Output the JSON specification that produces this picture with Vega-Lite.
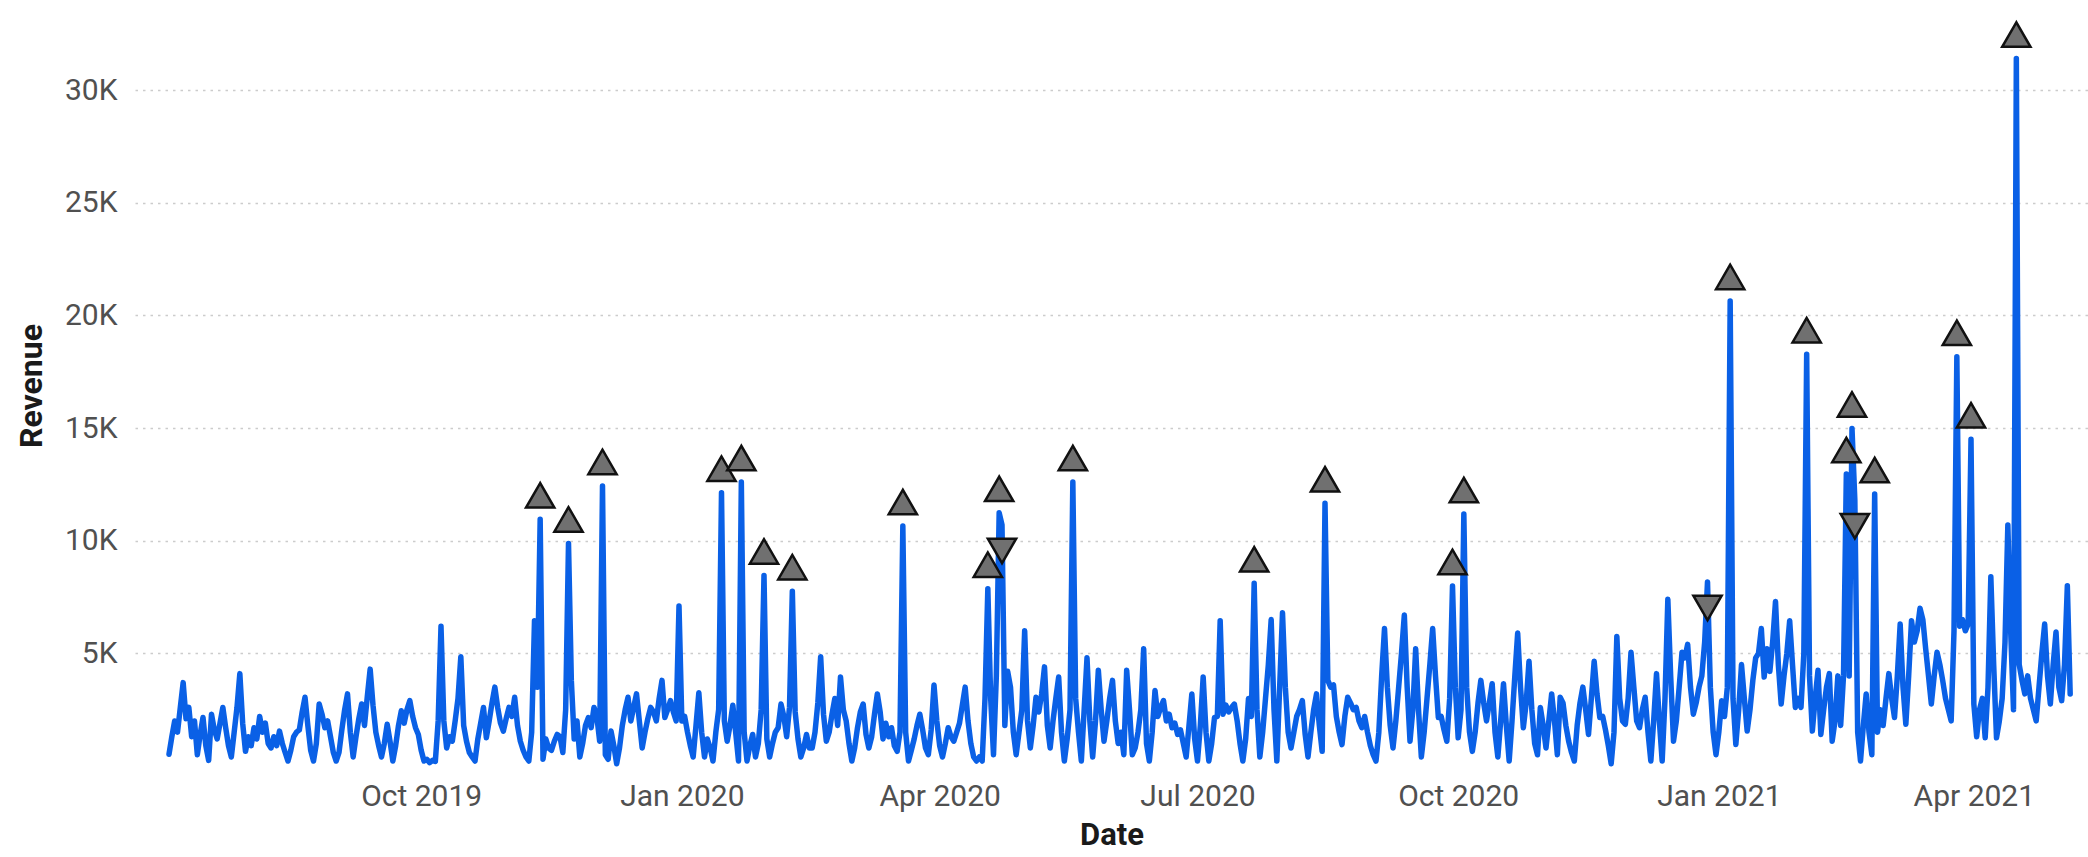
{
"$schema": "https://vega.github.io/schema/vega-lite/v6.json",
"width": 1953, "height": 761,
"autosize": {"type": "none"},
"padding": {"left": 135, "top": 5, "right": 0, "bottom": 91},
"background": "white",
"config": {"view": {"stroke": null}, "font": "Roboto"},
"data": {"values": [
{"Date":"2019-07-04","Revenue":520},{"Date":"2019-07-05","Revenue":1300},{"Date":"2019-07-06","Revenue":2000},{"Date":"2019-07-07","Revenue":1500},{"Date":"2019-07-08","Revenue":2600},{"Date":"2019-07-09","Revenue":3700},{"Date":"2019-07-10","Revenue":2100},{"Date":"2019-07-11","Revenue":2600},{"Date":"2019-07-12","Revenue":1300},{"Date":"2019-07-13","Revenue":2000},{"Date":"2019-07-14","Revenue":500},{"Date":"2019-07-15","Revenue":1400},{"Date":"2019-07-16","Revenue":2150},{"Date":"2019-07-17","Revenue":900},{"Date":"2019-07-18","Revenue":250},{"Date":"2019-07-19","Revenue":2300},{"Date":"2019-07-20","Revenue":1600},{"Date":"2019-07-21","Revenue":1200},{"Date":"2019-07-22","Revenue":1900},{"Date":"2019-07-23","Revenue":2600},{"Date":"2019-07-24","Revenue":1700},{"Date":"2019-07-25","Revenue":900},{"Date":"2019-07-26","Revenue":400},{"Date":"2019-07-27","Revenue":1500},{"Date":"2019-07-28","Revenue":2600},{"Date":"2019-07-29","Revenue":4100},{"Date":"2019-07-30","Revenue":1900},{"Date":"2019-07-31","Revenue":650},
{"Date":"2019-08-01","Revenue":1300},{"Date":"2019-08-02","Revenue":900},{"Date":"2019-08-03","Revenue":1700},{"Date":"2019-08-04","Revenue":1200},{"Date":"2019-08-05","Revenue":2200},{"Date":"2019-08-06","Revenue":1500},{"Date":"2019-08-07","Revenue":1900},{"Date":"2019-08-08","Revenue":1000},{"Date":"2019-08-09","Revenue":800},{"Date":"2019-08-10","Revenue":1300},{"Date":"2019-08-11","Revenue":900},{"Date":"2019-08-12","Revenue":1550},{"Date":"2019-08-13","Revenue":1000},{"Date":"2019-08-14","Revenue":600},{"Date":"2019-08-15","Revenue":220},{"Date":"2019-08-16","Revenue":700},{"Date":"2019-08-17","Revenue":1300},{"Date":"2019-08-18","Revenue":1500},{"Date":"2019-08-19","Revenue":1600},{"Date":"2019-08-20","Revenue":2400},{"Date":"2019-08-21","Revenue":3050},{"Date":"2019-08-22","Revenue":1800},{"Date":"2019-08-23","Revenue":700},{"Date":"2019-08-24","Revenue":220},{"Date":"2019-08-25","Revenue":1000},{"Date":"2019-08-26","Revenue":2750},{"Date":"2019-08-27","Revenue":2300},{"Date":"2019-08-28","Revenue":1700},{"Date":"2019-08-29","Revenue":2000},{"Date":"2019-08-30","Revenue":1300},{"Date":"2019-08-31","Revenue":600},
{"Date":"2019-09-01","Revenue":220},{"Date":"2019-09-02","Revenue":600},{"Date":"2019-09-03","Revenue":1600},{"Date":"2019-09-04","Revenue":2500},{"Date":"2019-09-05","Revenue":3200},{"Date":"2019-09-06","Revenue":1500},{"Date":"2019-09-07","Revenue":400},{"Date":"2019-09-08","Revenue":1300},{"Date":"2019-09-09","Revenue":2100},{"Date":"2019-09-10","Revenue":2750},{"Date":"2019-09-11","Revenue":1800},{"Date":"2019-09-12","Revenue":3100},{"Date":"2019-09-13","Revenue":4300},{"Date":"2019-09-14","Revenue":2700},{"Date":"2019-09-15","Revenue":1500},{"Date":"2019-09-16","Revenue":900},{"Date":"2019-09-17","Revenue":400},{"Date":"2019-09-18","Revenue":1000},{"Date":"2019-09-19","Revenue":1850},{"Date":"2019-09-20","Revenue":1100},{"Date":"2019-09-21","Revenue":220},{"Date":"2019-09-22","Revenue":900},{"Date":"2019-09-23","Revenue":1800},{"Date":"2019-09-24","Revenue":2450},{"Date":"2019-09-25","Revenue":1900},{"Date":"2019-09-26","Revenue":2500},{"Date":"2019-09-27","Revenue":2900},{"Date":"2019-09-28","Revenue":2200},{"Date":"2019-09-29","Revenue":1700},{"Date":"2019-09-30","Revenue":1400},
{"Date":"2019-10-01","Revenue":700},{"Date":"2019-10-02","Revenue":220},{"Date":"2019-10-03","Revenue":300},{"Date":"2019-10-04","Revenue":150},{"Date":"2019-10-05","Revenue":250},{"Date":"2019-10-06","Revenue":200},{"Date":"2019-10-07","Revenue":2000},{"Date":"2019-10-08","Revenue":6200},{"Date":"2019-10-09","Revenue":2000},{"Date":"2019-10-10","Revenue":800},{"Date":"2019-10-11","Revenue":1300},{"Date":"2019-10-12","Revenue":1100},{"Date":"2019-10-13","Revenue":2000},{"Date":"2019-10-14","Revenue":3000},{"Date":"2019-10-15","Revenue":4850},{"Date":"2019-10-16","Revenue":1800},{"Date":"2019-10-17","Revenue":1100},{"Date":"2019-10-18","Revenue":600},{"Date":"2019-10-19","Revenue":400},{"Date":"2019-10-20","Revenue":220},{"Date":"2019-10-21","Revenue":1200},{"Date":"2019-10-22","Revenue":1900},{"Date":"2019-10-23","Revenue":2600},{"Date":"2019-10-24","Revenue":1250},{"Date":"2019-10-25","Revenue":2000},{"Date":"2019-10-26","Revenue":2800},{"Date":"2019-10-27","Revenue":3500},{"Date":"2019-10-28","Revenue":2600},{"Date":"2019-10-29","Revenue":1900},{"Date":"2019-10-30","Revenue":1550},{"Date":"2019-10-31","Revenue":2100},
{"Date":"2019-11-01","Revenue":2600},{"Date":"2019-11-02","Revenue":2200},{"Date":"2019-11-03","Revenue":3050},{"Date":"2019-11-04","Revenue":1800},{"Date":"2019-11-05","Revenue":1100},{"Date":"2019-11-06","Revenue":700},{"Date":"2019-11-07","Revenue":400},{"Date":"2019-11-08","Revenue":220},{"Date":"2019-11-09","Revenue":1500},{"Date":"2019-11-10","Revenue":6450},{"Date":"2019-11-11","Revenue":3500},{"Date":"2019-11-12","Revenue":10950,"Anomaly":"up"},{"Date":"2019-11-13","Revenue":300},{"Date":"2019-11-14","Revenue":1200},{"Date":"2019-11-15","Revenue":800},{"Date":"2019-11-16","Revenue":700},{"Date":"2019-11-17","Revenue":1100},{"Date":"2019-11-18","Revenue":1400},{"Date":"2019-11-19","Revenue":1300},{"Date":"2019-11-20","Revenue":600},{"Date":"2019-11-21","Revenue":2500},{"Date":"2019-11-22","Revenue":9880,"Anomaly":"up"},{"Date":"2019-11-23","Revenue":3800},{"Date":"2019-11-24","Revenue":1200},{"Date":"2019-11-25","Revenue":2000},{"Date":"2019-11-26","Revenue":400},{"Date":"2019-11-27","Revenue":1000},{"Date":"2019-11-28","Revenue":1800},{"Date":"2019-11-29","Revenue":2150},{"Date":"2019-11-30","Revenue":1700},
{"Date":"2019-12-01","Revenue":2600},{"Date":"2019-12-02","Revenue":2200},{"Date":"2019-12-03","Revenue":1100},{"Date":"2019-12-04","Revenue":12430,"Anomaly":"up"},{"Date":"2019-12-05","Revenue":500},{"Date":"2019-12-06","Revenue":300},{"Date":"2019-12-07","Revenue":1550},{"Date":"2019-12-08","Revenue":900},{"Date":"2019-12-09","Revenue":100},{"Date":"2019-12-10","Revenue":800},{"Date":"2019-12-11","Revenue":1800},{"Date":"2019-12-12","Revenue":2500},{"Date":"2019-12-13","Revenue":3050},{"Date":"2019-12-14","Revenue":2000},{"Date":"2019-12-15","Revenue":2600},{"Date":"2019-12-16","Revenue":3200},{"Date":"2019-12-17","Revenue":2000},{"Date":"2019-12-18","Revenue":800},{"Date":"2019-12-19","Revenue":1500},{"Date":"2019-12-20","Revenue":2100},{"Date":"2019-12-21","Revenue":2600},{"Date":"2019-12-22","Revenue":2400},{"Date":"2019-12-23","Revenue":2000},{"Date":"2019-12-24","Revenue":3000},{"Date":"2019-12-25","Revenue":3800},{"Date":"2019-12-26","Revenue":2150},{"Date":"2019-12-27","Revenue":2500},{"Date":"2019-12-28","Revenue":2900},{"Date":"2019-12-29","Revenue":2400},{"Date":"2019-12-30","Revenue":2000},{"Date":"2019-12-31","Revenue":7100},
{"Date":"2020-01-01","Revenue":2000},{"Date":"2020-01-02","Revenue":2200},{"Date":"2020-01-03","Revenue":1500},{"Date":"2020-01-04","Revenue":900},{"Date":"2020-01-05","Revenue":400},{"Date":"2020-01-06","Revenue":1800},{"Date":"2020-01-07","Revenue":3250},{"Date":"2020-01-08","Revenue":1500},{"Date":"2020-01-09","Revenue":400},{"Date":"2020-01-10","Revenue":1200},{"Date":"2020-01-11","Revenue":800},{"Date":"2020-01-12","Revenue":220},{"Date":"2020-01-13","Revenue":1500},{"Date":"2020-01-14","Revenue":2500},{"Date":"2020-01-15","Revenue":12130,"Anomaly":"up"},{"Date":"2020-01-16","Revenue":2000},{"Date":"2020-01-17","Revenue":1100},{"Date":"2020-01-18","Revenue":1800},{"Date":"2020-01-19","Revenue":2700},{"Date":"2020-01-20","Revenue":1500},{"Date":"2020-01-21","Revenue":220},{"Date":"2020-01-22","Revenue":12600,"Anomaly":"up"},{"Date":"2020-01-23","Revenue":1500},{"Date":"2020-01-24","Revenue":220},{"Date":"2020-01-25","Revenue":900},{"Date":"2020-01-26","Revenue":1400},{"Date":"2020-01-27","Revenue":400},{"Date":"2020-01-28","Revenue":1000},{"Date":"2020-01-29","Revenue":2500},{"Date":"2020-01-30","Revenue":8460,"Anomaly":"up"},{"Date":"2020-01-31","Revenue":1200},
{"Date":"2020-02-01","Revenue":400},{"Date":"2020-02-02","Revenue":1000},{"Date":"2020-02-03","Revenue":1500},{"Date":"2020-02-04","Revenue":1700},{"Date":"2020-02-05","Revenue":2750},{"Date":"2020-02-06","Revenue":2200},{"Date":"2020-02-07","Revenue":1300},{"Date":"2020-02-08","Revenue":2600},{"Date":"2020-02-09","Revenue":7760,"Anomaly":"up"},{"Date":"2020-02-10","Revenue":2400},{"Date":"2020-02-11","Revenue":1200},{"Date":"2020-02-12","Revenue":400},{"Date":"2020-02-13","Revenue":800},{"Date":"2020-02-14","Revenue":1400},{"Date":"2020-02-15","Revenue":800},{"Date":"2020-02-16","Revenue":800},{"Date":"2020-02-17","Revenue":1500},{"Date":"2020-02-18","Revenue":2800},{"Date":"2020-02-19","Revenue":4850},{"Date":"2020-02-20","Revenue":2300},{"Date":"2020-02-21","Revenue":1100},{"Date":"2020-02-22","Revenue":1500},{"Date":"2020-02-23","Revenue":2300},{"Date":"2020-02-24","Revenue":3000},{"Date":"2020-02-25","Revenue":1800},{"Date":"2020-02-26","Revenue":3950},{"Date":"2020-02-27","Revenue":2500},{"Date":"2020-02-28","Revenue":2000},{"Date":"2020-02-29","Revenue":1000},
{"Date":"2020-03-01","Revenue":220},{"Date":"2020-03-02","Revenue":800},{"Date":"2020-03-03","Revenue":1700},{"Date":"2020-03-04","Revenue":2400},{"Date":"2020-03-05","Revenue":2750},{"Date":"2020-03-06","Revenue":1400},{"Date":"2020-03-07","Revenue":800},{"Date":"2020-03-08","Revenue":1300},{"Date":"2020-03-09","Revenue":2300},{"Date":"2020-03-10","Revenue":3200},{"Date":"2020-03-11","Revenue":2400},{"Date":"2020-03-12","Revenue":1200},{"Date":"2020-03-13","Revenue":1900},{"Date":"2020-03-14","Revenue":1300},{"Date":"2020-03-15","Revenue":1700},{"Date":"2020-03-16","Revenue":900},{"Date":"2020-03-17","Revenue":650},{"Date":"2020-03-18","Revenue":1500},{"Date":"2020-03-19","Revenue":10650,"Anomaly":"up"},{"Date":"2020-03-20","Revenue":1500},{"Date":"2020-03-21","Revenue":220},{"Date":"2020-03-22","Revenue":700},{"Date":"2020-03-23","Revenue":1200},{"Date":"2020-03-24","Revenue":1800},{"Date":"2020-03-25","Revenue":2300},{"Date":"2020-03-26","Revenue":1600},{"Date":"2020-03-27","Revenue":800},{"Date":"2020-03-28","Revenue":500},{"Date":"2020-03-29","Revenue":1600},{"Date":"2020-03-30","Revenue":3600},{"Date":"2020-03-31","Revenue":2000},
{"Date":"2020-04-01","Revenue":900},{"Date":"2020-04-02","Revenue":400},{"Date":"2020-04-03","Revenue":1000},{"Date":"2020-04-04","Revenue":1700},{"Date":"2020-04-05","Revenue":1300},{"Date":"2020-04-06","Revenue":1100},{"Date":"2020-04-07","Revenue":1500},{"Date":"2020-04-08","Revenue":1900},{"Date":"2020-04-09","Revenue":2700},{"Date":"2020-04-10","Revenue":3500},{"Date":"2020-04-11","Revenue":2000},{"Date":"2020-04-12","Revenue":1000},{"Date":"2020-04-13","Revenue":400},{"Date":"2020-04-14","Revenue":220},{"Date":"2020-04-15","Revenue":400},{"Date":"2020-04-16","Revenue":220},{"Date":"2020-04-17","Revenue":3000},{"Date":"2020-04-18","Revenue":7870,"Anomaly":"up"},{"Date":"2020-04-19","Revenue":3000},{"Date":"2020-04-20","Revenue":500},{"Date":"2020-04-21","Revenue":4000},{"Date":"2020-04-22","Revenue":11240,"Anomaly":"up"},{"Date":"2020-04-23","Revenue":10700,"Anomaly":"down"},{"Date":"2020-04-24","Revenue":1800},{"Date":"2020-04-25","Revenue":4200},{"Date":"2020-04-26","Revenue":3500},{"Date":"2020-04-27","Revenue":1500},{"Date":"2020-04-28","Revenue":500},{"Date":"2020-04-29","Revenue":1500},{"Date":"2020-04-30","Revenue":2500},
{"Date":"2020-05-01","Revenue":6000},{"Date":"2020-05-02","Revenue":2000},{"Date":"2020-05-03","Revenue":800},{"Date":"2020-05-04","Revenue":1800},{"Date":"2020-05-05","Revenue":3050},{"Date":"2020-05-06","Revenue":2400},{"Date":"2020-05-07","Revenue":3200},{"Date":"2020-05-08","Revenue":4400},{"Date":"2020-05-09","Revenue":1800},{"Date":"2020-05-10","Revenue":800},{"Date":"2020-05-11","Revenue":2000},{"Date":"2020-05-12","Revenue":3000},{"Date":"2020-05-13","Revenue":3950},{"Date":"2020-05-14","Revenue":1500},{"Date":"2020-05-15","Revenue":220},{"Date":"2020-05-16","Revenue":1200},{"Date":"2020-05-17","Revenue":2500},{"Date":"2020-05-18","Revenue":12600,"Anomaly":"up"},{"Date":"2020-05-19","Revenue":3000},{"Date":"2020-05-20","Revenue":1500},{"Date":"2020-05-21","Revenue":220},{"Date":"2020-05-22","Revenue":2500},{"Date":"2020-05-23","Revenue":4800},{"Date":"2020-05-24","Revenue":2000},{"Date":"2020-05-25","Revenue":400},{"Date":"2020-05-26","Revenue":2000},{"Date":"2020-05-27","Revenue":4250},{"Date":"2020-05-28","Revenue":2500},{"Date":"2020-05-29","Revenue":1100},{"Date":"2020-05-30","Revenue":2000},{"Date":"2020-05-31","Revenue":3000},
{"Date":"2020-06-01","Revenue":3800},{"Date":"2020-06-02","Revenue":2000},{"Date":"2020-06-03","Revenue":1000},{"Date":"2020-06-04","Revenue":1500},{"Date":"2020-06-05","Revenue":500},{"Date":"2020-06-06","Revenue":4250},{"Date":"2020-06-07","Revenue":2500},{"Date":"2020-06-08","Revenue":500},{"Date":"2020-06-09","Revenue":800},{"Date":"2020-06-10","Revenue":1500},{"Date":"2020-06-11","Revenue":2500},{"Date":"2020-06-12","Revenue":5200},{"Date":"2020-06-13","Revenue":1000},{"Date":"2020-06-14","Revenue":220},{"Date":"2020-06-15","Revenue":1500},{"Date":"2020-06-16","Revenue":3350},{"Date":"2020-06-17","Revenue":2200},{"Date":"2020-06-18","Revenue":2600},{"Date":"2020-06-19","Revenue":2900},{"Date":"2020-06-20","Revenue":2000},{"Date":"2020-06-21","Revenue":2300},{"Date":"2020-06-22","Revenue":1700},{"Date":"2020-06-23","Revenue":1900},{"Date":"2020-06-24","Revenue":1400},{"Date":"2020-06-25","Revenue":1600},{"Date":"2020-06-26","Revenue":1000},{"Date":"2020-06-27","Revenue":400},{"Date":"2020-06-28","Revenue":1800},{"Date":"2020-06-29","Revenue":3200},{"Date":"2020-06-30","Revenue":1200},
{"Date":"2020-07-01","Revenue":220},{"Date":"2020-07-02","Revenue":1800},{"Date":"2020-07-03","Revenue":3950},{"Date":"2020-07-04","Revenue":1500},{"Date":"2020-07-05","Revenue":220},{"Date":"2020-07-06","Revenue":1000},{"Date":"2020-07-07","Revenue":2150},{"Date":"2020-07-08","Revenue":2200},{"Date":"2020-07-09","Revenue":6450},{"Date":"2020-07-10","Revenue":2300},{"Date":"2020-07-11","Revenue":2700},{"Date":"2020-07-12","Revenue":2400},{"Date":"2020-07-13","Revenue":2600},{"Date":"2020-07-14","Revenue":2750},{"Date":"2020-07-15","Revenue":2000},{"Date":"2020-07-16","Revenue":1000},{"Date":"2020-07-17","Revenue":220},{"Date":"2020-07-18","Revenue":1200},{"Date":"2020-07-19","Revenue":3000},{"Date":"2020-07-20","Revenue":2200},{"Date":"2020-07-21","Revenue":8110,"Anomaly":"up"},{"Date":"2020-07-22","Revenue":2500},{"Date":"2020-07-23","Revenue":400},{"Date":"2020-07-24","Revenue":1500},{"Date":"2020-07-25","Revenue":3000},{"Date":"2020-07-26","Revenue":4500},{"Date":"2020-07-27","Revenue":6500},{"Date":"2020-07-28","Revenue":2500},{"Date":"2020-07-29","Revenue":220},{"Date":"2020-07-30","Revenue":3500},{"Date":"2020-07-31","Revenue":6800},
{"Date":"2020-08-01","Revenue":3500},{"Date":"2020-08-02","Revenue":1500},{"Date":"2020-08-03","Revenue":800},{"Date":"2020-08-04","Revenue":1500},{"Date":"2020-08-05","Revenue":2200},{"Date":"2020-08-06","Revenue":2500},{"Date":"2020-08-07","Revenue":2900},{"Date":"2020-08-08","Revenue":1400},{"Date":"2020-08-09","Revenue":400},{"Date":"2020-08-10","Revenue":1500},{"Date":"2020-08-11","Revenue":2500},{"Date":"2020-08-12","Revenue":3200},{"Date":"2020-08-13","Revenue":1800},{"Date":"2020-08-14","Revenue":650},{"Date":"2020-08-15","Revenue":11660,"Anomaly":"up"},{"Date":"2020-08-16","Revenue":3800},{"Date":"2020-08-17","Revenue":3500},{"Date":"2020-08-18","Revenue":3600},{"Date":"2020-08-19","Revenue":2200},{"Date":"2020-08-20","Revenue":1500},{"Date":"2020-08-21","Revenue":950},{"Date":"2020-08-22","Revenue":2200},{"Date":"2020-08-23","Revenue":3050},{"Date":"2020-08-24","Revenue":2800},{"Date":"2020-08-25","Revenue":2500},{"Date":"2020-08-26","Revenue":2600},{"Date":"2020-08-27","Revenue":2000},{"Date":"2020-08-28","Revenue":1700},{"Date":"2020-08-29","Revenue":2200},{"Date":"2020-08-30","Revenue":1500},{"Date":"2020-08-31","Revenue":900},
{"Date":"2020-09-01","Revenue":500},{"Date":"2020-09-02","Revenue":220},{"Date":"2020-09-03","Revenue":1500},{"Date":"2020-09-04","Revenue":4000},{"Date":"2020-09-05","Revenue":6100},{"Date":"2020-09-06","Revenue":3500},{"Date":"2020-09-07","Revenue":1800},{"Date":"2020-09-08","Revenue":800},{"Date":"2020-09-09","Revenue":2000},{"Date":"2020-09-10","Revenue":3500},{"Date":"2020-09-11","Revenue":5000},{"Date":"2020-09-12","Revenue":6700},{"Date":"2020-09-13","Revenue":3500},{"Date":"2020-09-14","Revenue":1100},{"Date":"2020-09-15","Revenue":2500},{"Date":"2020-09-16","Revenue":5200},{"Date":"2020-09-17","Revenue":2500},{"Date":"2020-09-18","Revenue":400},{"Date":"2020-09-19","Revenue":1500},{"Date":"2020-09-20","Revenue":3000},{"Date":"2020-09-21","Revenue":4500},{"Date":"2020-09-22","Revenue":6100},{"Date":"2020-09-23","Revenue":4000},{"Date":"2020-09-24","Revenue":2150},{"Date":"2020-09-25","Revenue":2200},{"Date":"2020-09-26","Revenue":1600},{"Date":"2020-09-27","Revenue":1100},{"Date":"2020-09-28","Revenue":3000},{"Date":"2020-09-29","Revenue":7990,"Anomaly":"up"},{"Date":"2020-09-30","Revenue":3500},
{"Date":"2020-10-01","Revenue":1250},{"Date":"2020-10-02","Revenue":2500},{"Date":"2020-10-03","Revenue":11180,"Anomaly":"up"},{"Date":"2020-10-04","Revenue":3500},{"Date":"2020-10-05","Revenue":1500},{"Date":"2020-10-06","Revenue":650},{"Date":"2020-10-07","Revenue":1500},{"Date":"2020-10-08","Revenue":2800},{"Date":"2020-10-09","Revenue":3800},{"Date":"2020-10-10","Revenue":2800},{"Date":"2020-10-11","Revenue":2000},{"Date":"2020-10-12","Revenue":2800},{"Date":"2020-10-13","Revenue":3650},{"Date":"2020-10-14","Revenue":1500},{"Date":"2020-10-15","Revenue":400},{"Date":"2020-10-16","Revenue":2000},{"Date":"2020-10-17","Revenue":3650},{"Date":"2020-10-18","Revenue":1800},{"Date":"2020-10-19","Revenue":220},{"Date":"2020-10-20","Revenue":2000},{"Date":"2020-10-21","Revenue":4000},{"Date":"2020-10-22","Revenue":5900},{"Date":"2020-10-23","Revenue":3500},{"Date":"2020-10-24","Revenue":1700},{"Date":"2020-10-25","Revenue":2800},{"Date":"2020-10-26","Revenue":4650},{"Date":"2020-10-27","Revenue":2500},{"Date":"2020-10-28","Revenue":1000},{"Date":"2020-10-29","Revenue":500},{"Date":"2020-10-30","Revenue":2600},{"Date":"2020-10-31","Revenue":1800},
{"Date":"2020-11-01","Revenue":800},{"Date":"2020-11-02","Revenue":2000},{"Date":"2020-11-03","Revenue":3200},{"Date":"2020-11-04","Revenue":2000},{"Date":"2020-11-05","Revenue":500},{"Date":"2020-11-06","Revenue":3050},{"Date":"2020-11-07","Revenue":2800},{"Date":"2020-11-08","Revenue":1800},{"Date":"2020-11-09","Revenue":1100},{"Date":"2020-11-10","Revenue":600},{"Date":"2020-11-11","Revenue":220},{"Date":"2020-11-12","Revenue":1800},{"Date":"2020-11-13","Revenue":2800},{"Date":"2020-11-14","Revenue":3500},{"Date":"2020-11-15","Revenue":2500},{"Date":"2020-11-16","Revenue":1400},{"Date":"2020-11-17","Revenue":3000},{"Date":"2020-11-18","Revenue":4650},{"Date":"2020-11-19","Revenue":3200},{"Date":"2020-11-20","Revenue":2150},{"Date":"2020-11-21","Revenue":2200},{"Date":"2020-11-22","Revenue":1600},{"Date":"2020-11-23","Revenue":900},{"Date":"2020-11-24","Revenue":100},{"Date":"2020-11-25","Revenue":1500},{"Date":"2020-11-26","Revenue":5750},{"Date":"2020-11-27","Revenue":3000},{"Date":"2020-11-28","Revenue":2000},{"Date":"2020-11-29","Revenue":1850},{"Date":"2020-11-30","Revenue":3000},
{"Date":"2020-12-01","Revenue":5050},{"Date":"2020-12-02","Revenue":3500},{"Date":"2020-12-03","Revenue":2000},{"Date":"2020-12-04","Revenue":1700},{"Date":"2020-12-05","Revenue":2500},{"Date":"2020-12-06","Revenue":3050},{"Date":"2020-12-07","Revenue":1500},{"Date":"2020-12-08","Revenue":220},{"Date":"2020-12-09","Revenue":2000},{"Date":"2020-12-10","Revenue":4100},{"Date":"2020-12-11","Revenue":2000},{"Date":"2020-12-12","Revenue":220},{"Date":"2020-12-13","Revenue":3000},{"Date":"2020-12-14","Revenue":7400},{"Date":"2020-12-15","Revenue":4000},{"Date":"2020-12-16","Revenue":1100},{"Date":"2020-12-17","Revenue":2000},{"Date":"2020-12-18","Revenue":3500},{"Date":"2020-12-19","Revenue":5050},{"Date":"2020-12-20","Revenue":4800},{"Date":"2020-12-21","Revenue":5400},{"Date":"2020-12-22","Revenue":3500},{"Date":"2020-12-23","Revenue":2300},{"Date":"2020-12-24","Revenue":2800},{"Date":"2020-12-25","Revenue":3500},{"Date":"2020-12-26","Revenue":4000},{"Date":"2020-12-27","Revenue":5500},{"Date":"2020-12-28","Revenue":8170,"Anomaly":"down"},{"Date":"2020-12-29","Revenue":3500},{"Date":"2020-12-30","Revenue":1500},{"Date":"2020-12-31","Revenue":500},
{"Date":"2021-01-01","Revenue":1500},{"Date":"2021-01-02","Revenue":2900},{"Date":"2021-01-03","Revenue":2200},{"Date":"2021-01-04","Revenue":3500},{"Date":"2021-01-05","Revenue":20640,"Anomaly":"up"},{"Date":"2021-01-06","Revenue":3000},{"Date":"2021-01-07","Revenue":950},{"Date":"2021-01-08","Revenue":2500},{"Date":"2021-01-09","Revenue":4500},{"Date":"2021-01-10","Revenue":3000},{"Date":"2021-01-11","Revenue":1550},{"Date":"2021-01-12","Revenue":2500},{"Date":"2021-01-13","Revenue":3800},{"Date":"2021-01-14","Revenue":4800},{"Date":"2021-01-15","Revenue":5000},{"Date":"2021-01-16","Revenue":6100},{"Date":"2021-01-17","Revenue":3950},{"Date":"2021-01-18","Revenue":5200},{"Date":"2021-01-19","Revenue":4200},{"Date":"2021-01-20","Revenue":5500},{"Date":"2021-01-21","Revenue":7300},{"Date":"2021-01-22","Revenue":4500},{"Date":"2021-01-23","Revenue":2750},{"Date":"2021-01-24","Revenue":4000},{"Date":"2021-01-25","Revenue":5000},{"Date":"2021-01-26","Revenue":6450},{"Date":"2021-01-27","Revenue":4500},{"Date":"2021-01-28","Revenue":2600},{"Date":"2021-01-29","Revenue":3000},{"Date":"2021-01-30","Revenue":2600},{"Date":"2021-01-31","Revenue":5000},
{"Date":"2021-02-01","Revenue":18280,"Anomaly":"up"},{"Date":"2021-02-02","Revenue":4000},{"Date":"2021-02-03","Revenue":1550},{"Date":"2021-02-04","Revenue":3000},{"Date":"2021-02-05","Revenue":4250},{"Date":"2021-02-06","Revenue":1400},{"Date":"2021-02-07","Revenue":2500},{"Date":"2021-02-08","Revenue":3500},{"Date":"2021-02-09","Revenue":4100},{"Date":"2021-02-10","Revenue":1100},{"Date":"2021-02-11","Revenue":2000},{"Date":"2021-02-12","Revenue":4000},{"Date":"2021-02-13","Revenue":1800},{"Date":"2021-02-14","Revenue":4000},{"Date":"2021-02-15","Revenue":12960,"Anomaly":"up"},{"Date":"2021-02-16","Revenue":4000},{"Date":"2021-02-17","Revenue":14980,"Anomaly":"up"},{"Date":"2021-02-18","Revenue":11800,"Anomaly":"down"},{"Date":"2021-02-19","Revenue":1500},{"Date":"2021-02-20","Revenue":220},{"Date":"2021-02-21","Revenue":1800},{"Date":"2021-02-22","Revenue":3200},{"Date":"2021-02-23","Revenue":1500},{"Date":"2021-02-24","Revenue":500},{"Date":"2021-02-25","Revenue":12070,"Anomaly":"up"},{"Date":"2021-02-26","Revenue":1500},{"Date":"2021-02-27","Revenue":2500},{"Date":"2021-02-28","Revenue":1800},
{"Date":"2021-03-01","Revenue":3000},{"Date":"2021-03-02","Revenue":4100},{"Date":"2021-03-03","Revenue":3000},{"Date":"2021-03-04","Revenue":2150},{"Date":"2021-03-05","Revenue":4000},{"Date":"2021-03-06","Revenue":6300},{"Date":"2021-03-07","Revenue":3500},{"Date":"2021-03-08","Revenue":1850},{"Date":"2021-03-09","Revenue":4000},{"Date":"2021-03-10","Revenue":6450},{"Date":"2021-03-11","Revenue":5500},{"Date":"2021-03-12","Revenue":6000},{"Date":"2021-03-13","Revenue":7000},{"Date":"2021-03-14","Revenue":6500},{"Date":"2021-03-15","Revenue":5200},{"Date":"2021-03-16","Revenue":4000},{"Date":"2021-03-17","Revenue":2750},{"Date":"2021-03-18","Revenue":4000},{"Date":"2021-03-19","Revenue":5050},{"Date":"2021-03-20","Revenue":4500},{"Date":"2021-03-21","Revenue":3800},{"Date":"2021-03-22","Revenue":3000},{"Date":"2021-03-23","Revenue":2500},{"Date":"2021-03-24","Revenue":2000},{"Date":"2021-03-25","Revenue":6000},{"Date":"2021-03-26","Revenue":18160,"Anomaly":"up"},{"Date":"2021-03-27","Revenue":6200},{"Date":"2021-03-28","Revenue":6500},{"Date":"2021-03-29","Revenue":6000},{"Date":"2021-03-30","Revenue":6300},{"Date":"2021-03-31","Revenue":14500,"Anomaly":"up"},
{"Date":"2021-04-01","Revenue":2750},{"Date":"2021-04-02","Revenue":1300},{"Date":"2021-04-03","Revenue":2500},{"Date":"2021-04-04","Revenue":3000},{"Date":"2021-04-05","Revenue":1250},{"Date":"2021-04-06","Revenue":3500},{"Date":"2021-04-07","Revenue":8400},{"Date":"2021-04-08","Revenue":4500},{"Date":"2021-04-09","Revenue":1250},{"Date":"2021-04-10","Revenue":2000},{"Date":"2021-04-11","Revenue":3000},{"Date":"2021-04-12","Revenue":5500},{"Date":"2021-04-13","Revenue":10700},{"Date":"2021-04-14","Revenue":6000},{"Date":"2021-04-15","Revenue":2500},{"Date":"2021-04-16","Revenue":31400,"Anomaly":"up"},{"Date":"2021-04-17","Revenue":4500},{"Date":"2021-04-18","Revenue":3800},{"Date":"2021-04-19","Revenue":3200},{"Date":"2021-04-20","Revenue":4000},{"Date":"2021-04-21","Revenue":3000},{"Date":"2021-04-22","Revenue":2500},{"Date":"2021-04-23","Revenue":2000},{"Date":"2021-04-24","Revenue":3500},{"Date":"2021-04-25","Revenue":5000},{"Date":"2021-04-26","Revenue":6300},{"Date":"2021-04-27","Revenue":4000},{"Date":"2021-04-28","Revenue":2750},{"Date":"2021-04-29","Revenue":4500},{"Date":"2021-04-30","Revenue":5950},
{"Date":"2021-05-01","Revenue":3500},{"Date":"2021-05-02","Revenue":2900},{"Date":"2021-05-03","Revenue":4500},{"Date":"2021-05-04","Revenue":8000},{"Date":"2021-05-05","Revenue":3200}
]},
"encoding": {
  "x": {"field": "Date", "type": "temporal",
    "scale": {"type": "utc", "domain": [{"year": 2019, "month": 6, "date": 22, "utc": true}, {"year": 2021, "month": 5, "date": 11, "hours": 7, "utc": true}]},
    "axis": {"title": "Date", "format": "%b %Y", "grid": false, "domain": false, "ticks": false, "tickSize": 0,
      "values": [{"year": 2019, "month": 10, "date": 1, "utc": true}, {"year": 2020, "month": 1, "date": 1, "utc": true}, {"year": 2020, "month": 4, "date": 1, "utc": true}, {"year": 2020, "month": 7, "date": 1, "utc": true}, {"year": 2020, "month": 10, "date": 1, "utc": true}, {"year": 2021, "month": 1, "date": 1, "utc": true}, {"year": 2021, "month": 4, "date": 1, "utc": true}],
      "labelFont": "Roboto", "labelFontSize": 30, "labelColor": "#505050", "labelPadding": 15, "labelFlush": false, "labelOverlap": false, "labelBound": false,
      "titleFont": "Roboto", "titleFontSize": 31, "titleFontWeight": "bold", "titleColor": "#1a1a1a", "titlePadding": 9}},
  "y": {"field": "Revenue", "type": "quantitative",
    "scale": {"domain": [0, 33776], "nice": false, "zero": true},
    "axis": {"title": "Revenue", "values": [5000, 10000, 15000, 20000, 25000, 30000], "labelExpr": "datum.value / 1000 + 'K'",
      "grid": true, "gridDash": [2.5, 5], "gridColor": "#cccccc", "gridWidth": 1.5, "domain": false, "ticks": false, "tickSize": 0,
      "labelFont": "Roboto", "labelFontSize": 30, "labelColor": "#505050", "labelPadding": 18,
      "titleFont": "Roboto", "titleFontSize": 32, "titleFontWeight": "bold", "titleColor": "#1a1a1a", "titlePadding": 16}}
},
"layer": [
  {"mark": {"type": "line", "color": "#0A60E6", "strokeWidth": 5.5, "strokeJoin": "round", "strokeCap": "round"}},
  {"transform": [{"filter": "datum.Anomaly == 'up'"}],
   "mark": {"type": "point", "shape": "triangle-up", "size": 800, "filled": true, "fill": "#707070", "stroke": "#111111", "strokeWidth": 2.5, "opacity": 1, "yOffset": -24}},
  {"transform": [{"filter": "datum.Anomaly == 'down'"}],
   "mark": {"type": "point", "shape": "triangle-down", "size": 800, "filled": true, "fill": "#707070", "stroke": "#111111", "strokeWidth": 2.5, "opacity": 1, "yOffset": 26}}
]
}
